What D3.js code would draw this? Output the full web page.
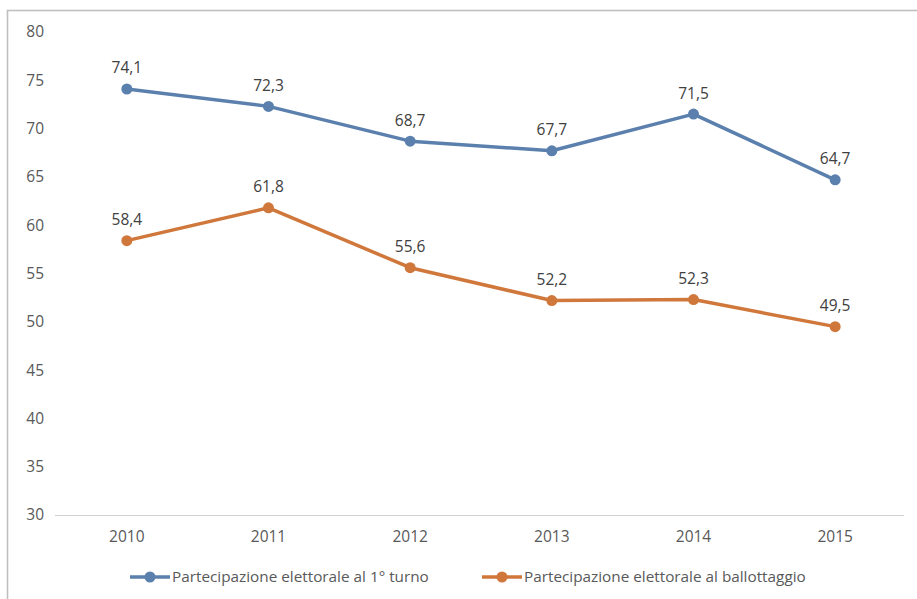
<!DOCTYPE html>
<html><head><meta charset="utf-8">
<script src="https://cdn.jsdelivr.net/npm/d3@7"></script>
<style>body{margin:0;background:#fff;}svg{display:block;}</style>
</head><body>
<script>
const years = ["2010","2011","2012","2013","2014","2015"];
const primoTurno = [74.1, 72.3, 68.7, 67.7, 71.5, 64.7];
const ballottaggio = [58.4, 61.8, 55.6, 52.2, 52.3, 49.5];
const yTicks = [30,35,40,45,50,55,60,65,70,75,80];
const seriesNames = ["Partecipazione elettorale al 1° turno","Partecipazione elettorale al ballottaggio"];
const seriesColors = ["#5b80ad","#d0773b"];

const W=917,H=599;
const svg=d3.select("body").append("svg").attr("width",W).attr("height",H);
const font="'Open Sans', 'Liberation Sans', sans-serif";
svg.append("rect").attr("x",7.5).attr("y",10.5).attr("width",940).attr("height",640)
  .attr("fill","none").attr("stroke","#bfbfbf").attr("stroke-width",1.6);

const x=d3.scaleBand().domain(years).range([56,906]);
const y=d3.scaleLinear().domain([30,80]).range([515,32]);

// y labels
svg.selectAll(".yl").data(yTicks).enter().append("text")
  .attr("x",44).attr("y",d=>y(d)).attr("dy","0.35em").attr("text-anchor","end")
  .attr("font-family",font).attr("font-size",15.5).attr("fill","#595959").text(d=>d);
// x axis line
svg.append("line").attr("x1",55).attr("x2",904).attr("y1",515.5).attr("y2",515.5)
  .attr("stroke","#d0d0d0").attr("stroke-width",1.2);
svg.selectAll(".xl").data(years).enter().append("text")
  .attr("x",d=>x(d)+x.bandwidth()/2).attr("y",537).attr("dy","0.35em").attr("text-anchor","middle")
  .attr("font-family",font).attr("font-size",15.5).attr("fill","#595959").text(d=>d);

const series=[primoTurno,ballottaggio];
const line=d3.line().x((d,i)=>x(years[i])+x.bandwidth()/2).y(d=>y(d));
series.forEach((vals,si)=>{
  const g=svg.append("g");
  g.append("path").datum(vals).attr("d",line).attr("fill","none")
    .attr("stroke",seriesColors[si]).attr("stroke-width",3.5).attr("stroke-linejoin","round");
  g.selectAll("circle").data(vals).enter().append("circle")
    .attr("cx",(d,i)=>x(years[i])+x.bandwidth()/2).attr("cy",d=>y(d)).attr("r",5.5)
    .attr("fill",seriesColors[si]);
  g.selectAll("text").data(vals).enter().append("text")
    .attr("x",(d,i)=>x(years[i])+x.bandwidth()/2).attr("y",d=>y(d)-21)
    .attr("dy","0.35em").attr("text-anchor","middle")
    .attr("font-family",font).attr("font-size",15.5).attr("fill","#404040")
    .text(d=>d3.format(".1f")(d).replace(".",","));
});

// legend
const legX=[130,482];
seriesNames.forEach((n,i)=>{
  const g=svg.append("g");
  g.append("line").attr("x1",legX[i]).attr("x2",legX[i]+40).attr("y1",577).attr("y2",577)
    .attr("stroke",seriesColors[i]).attr("stroke-width",3.5);
  g.append("circle").attr("cx",legX[i]+20).attr("cy",577).attr("r",5.5).attr("fill",seriesColors[i]);
  g.append("text").attr("x",legX[i]+42).attr("y",577).attr("dy","0.35em")
    .attr("font-family",font).attr("font-size",15.3).attr("fill","#595959").text(n);
});
</script>
</body></html>
